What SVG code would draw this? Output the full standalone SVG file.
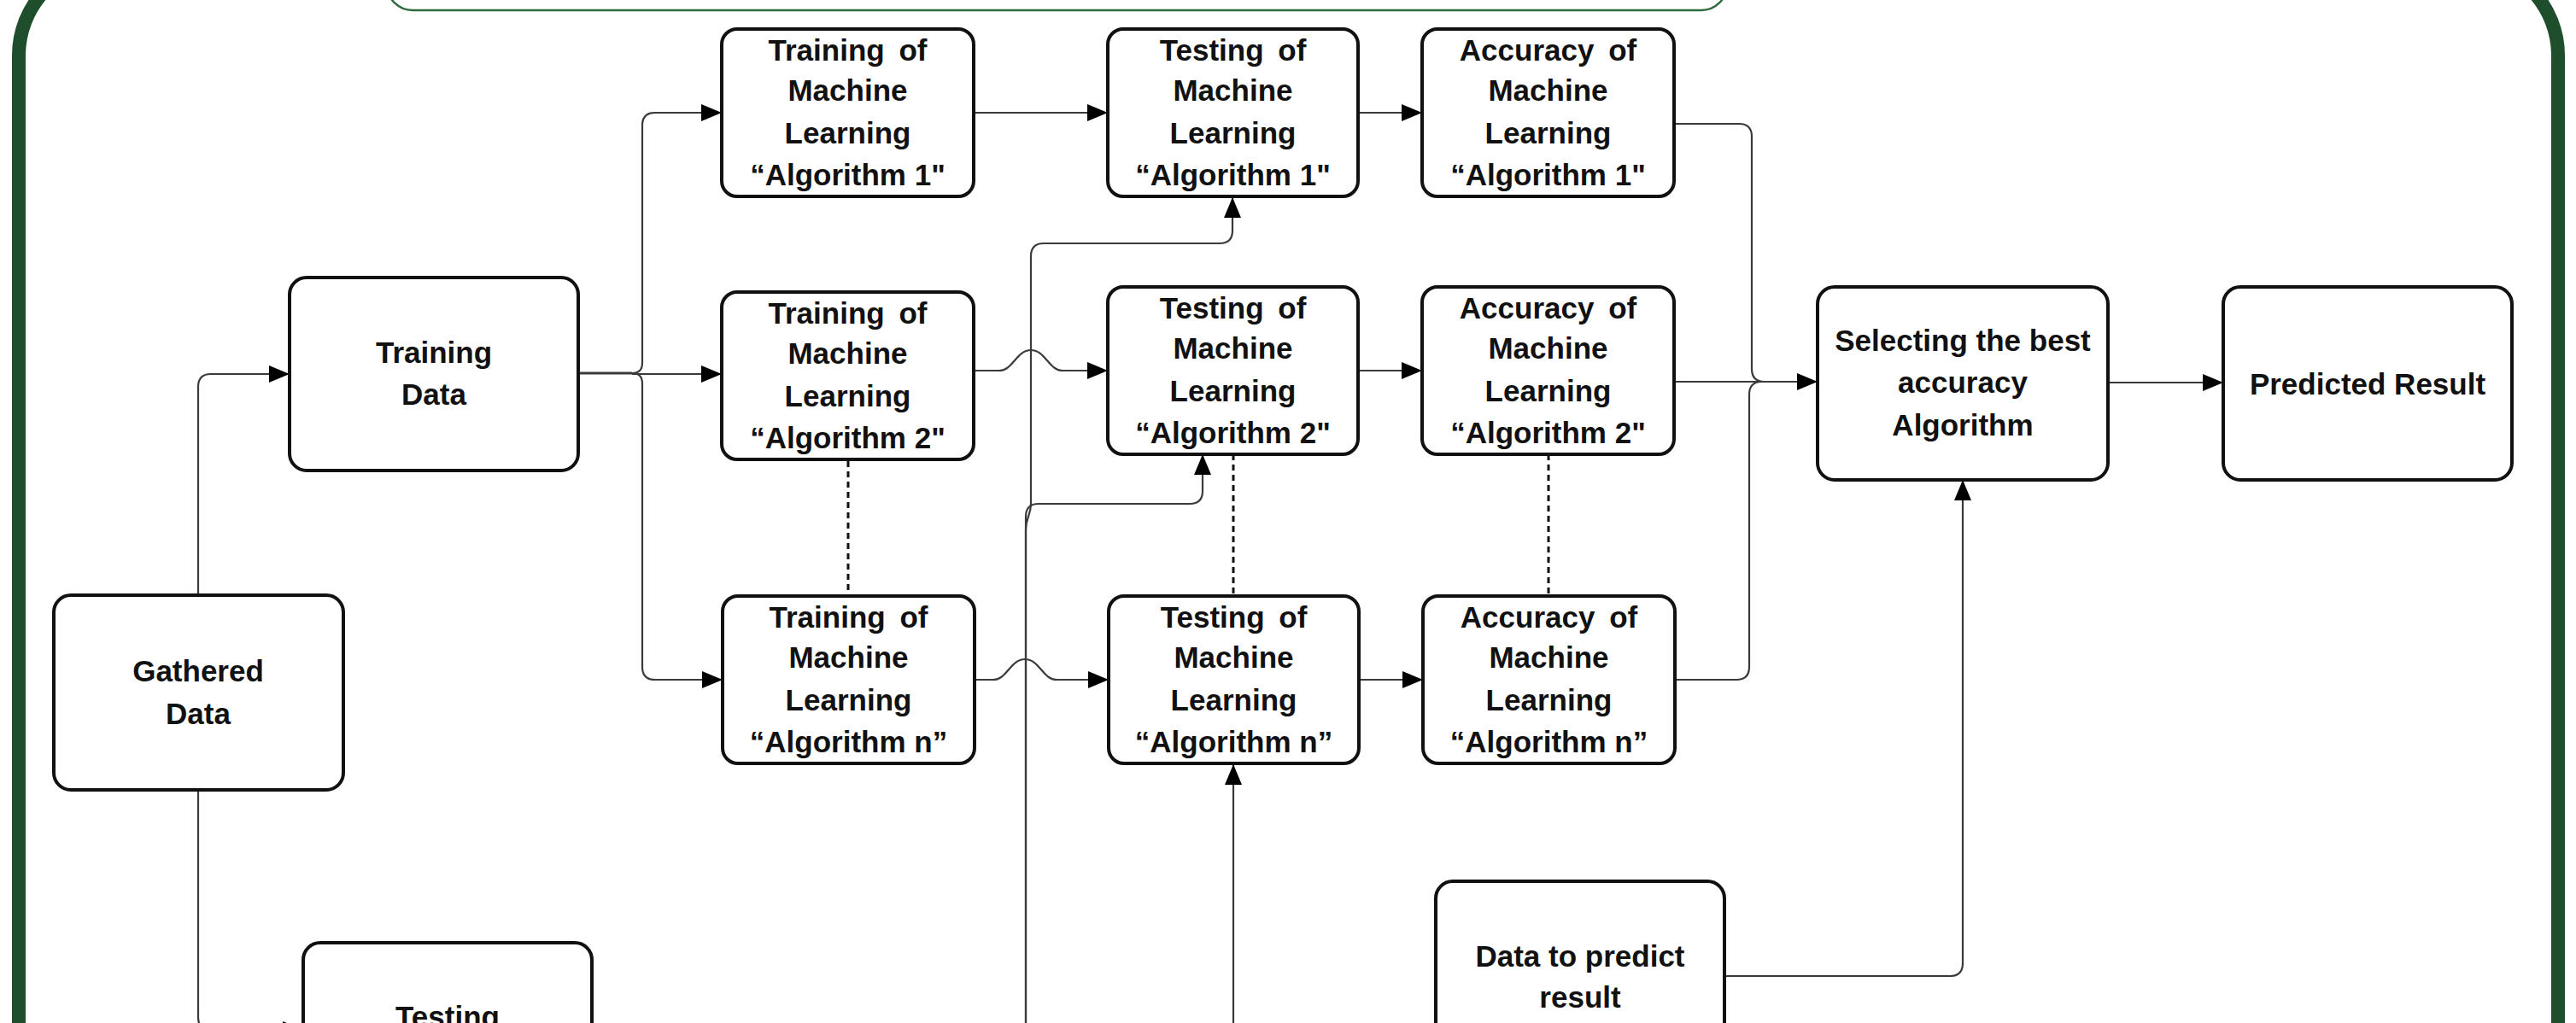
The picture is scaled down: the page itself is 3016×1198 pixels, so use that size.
<svg xmlns="http://www.w3.org/2000/svg" width="3016" height="1198" viewBox="0 0 3016 1198">
<style>
.box{fill:#ffffff;stroke:#111111;stroke-width:4}
.t{font-family:"Liberation Sans",Arial,sans-serif;font-weight:bold;font-size:35px;fill:#111111;text-anchor:middle}
.ws{word-spacing:7px}
.c{fill:none;stroke:#3a3a3a;stroke-width:2.2}
.a{marker-end:url(#arr)}
.d{fill:none;stroke:#111111;stroke-width:3;stroke-dasharray:7 5}
</style>
<defs>
<marker id="arr" markerUnits="userSpaceOnUse" markerWidth="24" markerHeight="20" refX="24" refY="10" orient="auto">
<path d="M0,0 L24,10 L0,20 z" fill="#000000"/>
</marker>
</defs>
<rect x="0" y="0" width="3016" height="1198" fill="#ffffff"/>
<rect id="frame" x="22" y="-45" width="2973" height="1400" rx="110" fill="none" stroke="#1f4e2c" stroke-width="16"/>
<rect id="banner" x="453" y="-60" width="1569" height="72" rx="30" fill="#ffffff" stroke="#2e6b3f" stroke-width="2.5"/>

<g id="connectors">
<path class="c a" d="M232 697 V453 Q232 438 247 438 H339"/>
<path class="c a" d="M232 925 V1191 Q232 1206 247 1206 H355"/>
<path class="c" style="stroke-width:3" d="M677 437 H740"/>
<path class="c a" d="M740 437 Q752 437 752 425 V147 Q752 132 767 132 H845"/>
<path class="c a" d="M740 438 H845"/>
<path class="c a" d="M740 437 Q752 437 752 449 V781 Q752 796 767 796 H846"/>
<path class="c a" d="M1140 132 H1297"/>
<path class="c a" d="M1140 434 H1170 C1186 434 1190 410 1207 410 C1224 410 1228 434 1244 434 H1297"/>
<path class="c a" d="M1141 796 H1163 C1179 796 1183 772 1200 772 C1217 772 1221 796 1237 796 H1298"/>
<path class="c a" d="M1590 132 H1665"/>
<path class="c a" d="M1590 434 H1665"/>
<path class="c a" d="M1591 796 H1666"/>
<path class="c" d="M1960 145 H2036 Q2051 145 2051 160 V432 Q2051 447 2066 447"/>
<path class="c a" d="M1960 447 H2128"/>
<path class="c" d="M1961 796 H2033 Q2048 796 2048 781 V462 Q2048 447 2063 447"/>
<path class="c a" d="M2468 448 H2603"/>
<path class="c a" d="M2019 1143 H2283 Q2298 1143 2298 1128 V562"/>
<path class="c a" d="M1201 1198 V620 C1201 606 1207 604 1207 590 V300 Q1207 285 1222 285 H1428 Q1443 285 1443 270 V231"/>
<path class="c a" d="M1201 1198 V605 Q1201 590 1216 590 H1393 Q1408 590 1408 575 V532"/>
<path class="c a" d="M1444 1198 V895"/>
<path class="d" d="M993 540 V698"/>
<path class="d" d="M1444 532 V698"/>
<path class="d" d="M1813 532 V698"/>
</g>

<g id="gathered-data">
<rect class="box" x="63" y="697" width="339" height="228" rx="20"/>
<text class="t" x="232" y="798">Gathered</text>
<text class="t" x="232" y="848">Data</text>
</g>
<g id="training-data">
<rect class="box" x="339" y="325" width="338" height="226" rx="20"/>
<text class="t" x="508" y="425">Training</text>
<text class="t" x="508" y="474">Data</text>
</g>
<g id="testing-data">
<rect class="box" x="355" y="1104" width="338" height="226" rx="20"/>
<text class="t" x="524" y="1203">Testing</text>
</g>

<g id="training-alg1">
<rect class="box" x="845" y="34" width="295" height="196" rx="18"/>
<text class="t ws" x="992.5" y="71">Training of</text>
<text class="t" x="992.5" y="118">Machine</text>
<text class="t" x="992.5" y="168">Learning</text>
<text class="t" x="992.5" y="217">“Algorithm 1"</text>
</g>
<g id="training-alg2">
<rect class="box" x="845" y="342" width="295" height="196" rx="18"/>
<text class="t ws" x="992.5" y="379">Training of</text>
<text class="t" x="992.5" y="426">Machine</text>
<text class="t" x="992.5" y="476">Learning</text>
<text class="t" x="992.5" y="525">“Algorithm 2"</text>
</g>
<g id="training-algn">
<rect class="box" x="846" y="698" width="295" height="196" rx="18"/>
<text class="t ws" x="993.5" y="735">Training of</text>
<text class="t" x="993.5" y="782">Machine</text>
<text class="t" x="993.5" y="832">Learning</text>
<text class="t" x="993.5" y="881">“Algorithm n”</text>
</g>

<g id="testing-alg1">
<rect class="box" x="1297" y="34" width="293" height="196" rx="18"/>
<text class="t ws" x="1443.5" y="71">Testing of</text>
<text class="t" x="1443.5" y="118">Machine</text>
<text class="t" x="1443.5" y="168">Learning</text>
<text class="t" x="1443.5" y="217">“Algorithm 1"</text>
</g>
<g id="testing-alg2">
<rect class="box" x="1297" y="336" width="293" height="196" rx="18"/>
<text class="t ws" x="1443.5" y="373">Testing of</text>
<text class="t" x="1443.5" y="420">Machine</text>
<text class="t" x="1443.5" y="470">Learning</text>
<text class="t" x="1443.5" y="519">“Algorithm 2"</text>
</g>
<g id="testing-algn">
<rect class="box" x="1298" y="698" width="293" height="196" rx="18"/>
<text class="t ws" x="1444.5" y="735">Testing of</text>
<text class="t" x="1444.5" y="782">Machine</text>
<text class="t" x="1444.5" y="832">Learning</text>
<text class="t" x="1444.5" y="881">“Algorithm n”</text>
</g>

<g id="accuracy-alg1">
<rect class="box" x="1665" y="34" width="295" height="196" rx="18"/>
<text class="t ws" x="1812.5" y="71">Accuracy of</text>
<text class="t" x="1812.5" y="118">Machine</text>
<text class="t" x="1812.5" y="168">Learning</text>
<text class="t" x="1812.5" y="217">“Algorithm 1"</text>
</g>
<g id="accuracy-alg2">
<rect class="box" x="1665" y="336" width="295" height="196" rx="18"/>
<text class="t ws" x="1812.5" y="373">Accuracy of</text>
<text class="t" x="1812.5" y="420">Machine</text>
<text class="t" x="1812.5" y="470">Learning</text>
<text class="t" x="1812.5" y="519">“Algorithm 2"</text>
</g>
<g id="accuracy-algn">
<rect class="box" x="1666" y="698" width="295" height="196" rx="18"/>
<text class="t ws" x="1813.5" y="735">Accuracy of</text>
<text class="t" x="1813.5" y="782">Machine</text>
<text class="t" x="1813.5" y="832">Learning</text>
<text class="t" x="1813.5" y="881">“Algorithm n”</text>
</g>

<g id="selecting">
<rect class="box" x="2128" y="336" width="340" height="226" rx="20"/>
<text class="t" x="2298" y="411">Selecting the best</text>
<text class="t" x="2298" y="460">accuracy</text>
<text class="t" x="2298" y="510">Algorithm</text>
</g>
<g id="predicted-result">
<rect class="box" x="2603" y="336" width="338" height="226" rx="20"/>
<text class="t" x="2772" y="462">Predicted Result</text>
</g>
<g id="data-to-predict">
<rect class="box" x="1681" y="1032" width="338" height="226" rx="20"/>
<text class="t" x="1850" y="1132">Data to predict</text>
<text class="t" x="1850" y="1180">result</text>
</g>
</svg>
